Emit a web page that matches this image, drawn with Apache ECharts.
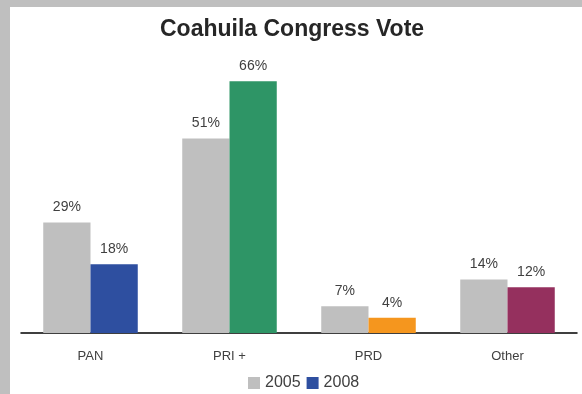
<!DOCTYPE html>
<html><head><meta charset="utf-8">
<script src="https://cdn.jsdelivr.net/npm/echarts@6/dist/echarts.min.js"></script>
<style>
html,body{margin:0;padding:0;background:#BFBFBF;width:582px;height:394px;overflow:hidden}
#c{position:absolute;left:10px;top:7px;width:572px;height:387px;background:#fff}
</style></head><body>
<div id="c"></div>
<script>
const categories = ['PAN', 'PRI +', 'PRD', 'Other'];
const values2005 = [29, 51, 7, 14];
const values2008 = [18, 66, 4, 12];
const colors2008 = ['#2E4FA0', '#2E9566', '#F5961E', '#95305E'];
const color2005 = '#BFBFBF';

const chart = echarts.init(document.getElementById('c'));
const font = 'Liberation Sans, Arial, sans-serif';
chart.setOption({
  animation: false,
  title: {text: 'Coahuila Congress Vote', left: 150, top: 11, padding: 0,
    textStyle: {fontFamily: font, fontSize: 23, fontWeight: 'bold', color: '#262626'}},
  legend: {bottom: 3, left: 238, padding: 0, itemWidth: 12, itemHeight: 12, itemGap: 6,
    icon: 'rect', textStyle: {fontFamily: font, fontSize: 16, color: '#404040'},
    data: [{name: '2005', itemStyle: {color: color2005}}, {name: '2008', itemStyle: {color: colors2008[0]}}]},
  grid: {left: 11, right: 5, top: 59, bottom: 61},
  xAxis: {type: 'category', data: categories,
    axisLine: {lineStyle: {color: '#000', width: 1.5}}, axisTick: {show: false},
    axisLabel: {fontFamily: font, fontSize: 13, color: '#404040', margin: 17}},
  yAxis: {type: 'value', min: 0, max: 70, show: false, splitLine: {show: false}},
  series: [
    {name: '2005', type: 'bar', data: values2005, barGap: '0%', barCategoryGap: '32%',
      itemStyle: {color: color2005},
      label: {show: true, position: 'top', distance: 8, formatter: '{c}%', fontFamily: font, fontSize: 14, color: '#404040'}},
    {name: '2008', type: 'bar', barGap: '0%', barCategoryGap: '32%',
      data: values2008.map((v, i) => ({value: v, itemStyle: {color: colors2008[i]}})),
      label: {show: true, position: 'top', distance: 8, formatter: '{c}%', fontFamily: font, fontSize: 14, color: '#404040'}}
  ]
});
</script></body></html>
